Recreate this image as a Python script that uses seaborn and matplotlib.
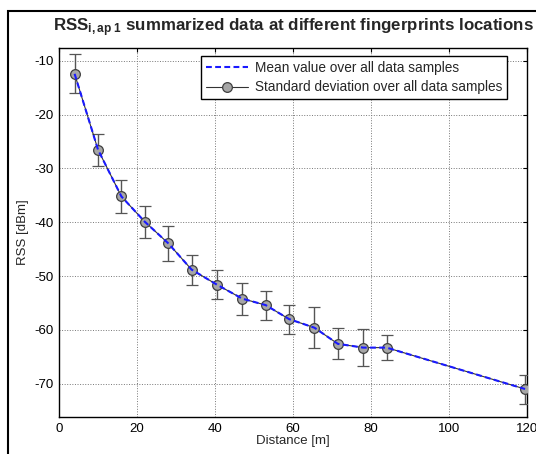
import numpy as np
import pandas as pd
import seaborn as sns
import matplotlib.pyplot as plt
from matplotlib.patches import Rectangle
from matplotlib.lines import Line2D

# valori
distance = [4, 10, 16, 22, 28, 34, 40.5, 47, 53, 59, 65.5, 71.5, 78, 84, 119.5]
rss_mean = [-12.4, -26.5, -35.2, -39.9, -43.9, -48.8, -51.6, -54.2, -55.4, -58.0,
            -59.6, -62.6, -63.3, -63.3, -71.0]
rss_std = [3.6, 3.0, 3.0, 3.0, 3.3, 2.8, 2.7, 3.0, 2.7, 2.7, 3.8, 2.9, 3.4, 2.3, 2.7]

x_ticks = [0, 20, 40, 60, 80, 100, 120]
y_ticks = [-10, -20, -30, -40, -50, -60, -70]

df = pd.DataFrame({'Distance': distance, 'RSS': rss_mean, 'Std': rss_std})

sns.set_style('white')
plt.rcParams['font.family'] = ['Liberation Sans', 'DejaVu Sans']
plt.rcParams['axes.unicode_minus'] = False
plt.rcParams['mathtext.fontset'] = 'custom'
plt.rcParams['mathtext.rm'] = 'Liberation Sans:bold'
plt.rcParams['mathtext.it'] = 'Liberation Sans:bold'
plt.rcParams['mathtext.bf'] = 'Liberation Sans:bold'

fig = plt.figure(figsize=(5.36, 4.54), dpi=100)
ax = fig.add_axes([59 / 536, 37 / 454, 468 / 536, 369 / 454])

# cornice esterna della figura
fig.patches.append(Rectangle((8 / 536, -0.05), 1.1, (454 - 11) / 454 + 0.05,
                             transform=fig.transFigure, fill=False,
                             edgecolor='black', linewidth=1.5))

marker_style = dict(marker='o', markersize=7, markerfacecolor='#a6a6a6',
                    markeredgecolor='#404040', markeredgewidth=0.9)

ax.errorbar(df['Distance'], df['RSS'], yerr=df['Std'], fmt='-', color='#333333',
            linewidth=0.8, ecolor='#555555', elinewidth=1.0, capsize=4, capthick=1.0,
            zorder=3, **marker_style)
sns.lineplot(data=df, x='Distance', y='RSS', ax=ax, color='#1a1aff',
             linewidth=1.5, dashes=(2.8, 1.6), zorder=4)

ax.set_xlim(0, 120)
ax.set_ylim(-76.2, -7.6)
ax.set_xticks(x_ticks)
ax.set_yticks(y_ticks)
ax.tick_params(direction='in', length=3, width=0.8, top=True, right=True,
               labelsize=9.5, colors='black', pad=4)
ax.grid(True, linestyle=':', color='#777777', linewidth=0.7)
for s in ax.spines.values():
    s.set_color('black')
    s.set_linewidth(1.0)

ax.set_xlabel('Distance [m]', fontsize=9.5, labelpad=0)
ax.set_ylabel('RSS [dBm]', fontsize=9.5, labelpad=4)
ax.set_title(r'RSS$_{i,ap\ 1}$ summarized data at different fingerprints locations',
             fontsize=12.2, fontweight='bold', pad=12)

h_mean = Line2D([], [], color='#1a1aff', linewidth=1.5, dashes=(2.8, 1.6))
h_std = Line2D([], [], color='#333333', linewidth=0.8, **marker_style)
leg = ax.legend([h_mean, h_std],
                ['Mean value over all data samples', 'Standard deviation over all data samples'],
                loc='upper right', fontsize=9.8, frameon=True, fancybox=False,
                edgecolor='black', framealpha=1, borderaxespad=0.6,
                bbox_to_anchor=(1 - 12 / 468, 1), handlelength=3.1,
                handletextpad=0.5, borderpad=0.35, labelspacing=0.4)
leg.get_frame().set_linewidth(1.0)

plt.savefig('out.png', dpi=100)
